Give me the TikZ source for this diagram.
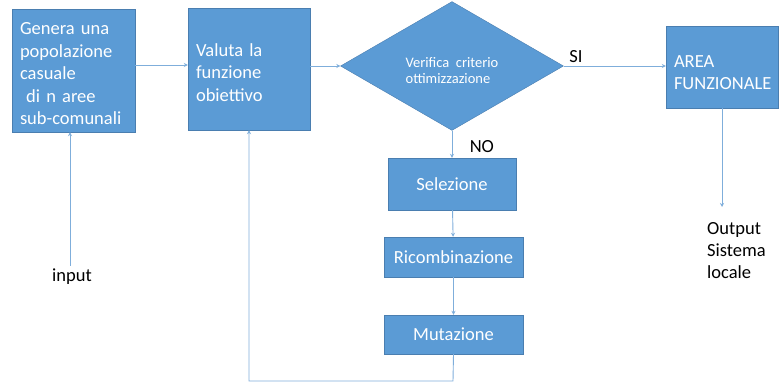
\documentclass[tikz,border=0pt]{standalone}
\usepackage{fontspec}
\setmainfont{Carlito}
\usepackage{tikz}
\usetikzlibrary{arrows.meta, positioning, shapes.geometric}
\definecolor{boxfill}{HTML}{5B9BD5}
\definecolor{boxedge}{HTML}{4A7EB0}
\definecolor{linecol}{HTML}{7FAEDB}
\newcommand{\giu}[1]{\rule{0pt}{#1}}

\begin{document}
\begin{tikzpicture}[x=1pt, y=-1pt]

% Define styles for the nodes
\tikzstyle{blk} = [rectangle, draw=boxedge, fill=boxfill, text=white, font=\fontsize{18.5}{22.5}\selectfont, inner xsep=8pt]
\tikzstyle{dec} = [diamond, draw=boxedge, fill=boxfill, text=white, font=\fontsize{14.5}{16}\selectfont, align=left, inner sep=0pt]
\tikzstyle{conn} = [draw=linecol, line width=0.9pt, -{Stealth[length=4pt, width=4pt]}]
\tikzstyle{lbl} = [text=black, font=\fontsize{18.5}{22}\selectfont, align=left]

\useasboundingbox (0,0) rectangle (782,382);

% Nodes
\node (genera) [blk, minimum width=123, minimum height=123, text width=107, align=left] at (73.5,70.5) {\giu{19pt}Genera una\\popolazione\\casuale\\~di n aree\\sub-comunali};
\node (valuta) [blk, minimum width=122, minimum height=122, text width=106, align=left] at (249,69) {\giu{20pt}Valuta la\\funzione\\obiettivo};
\node (verifica) [dec, minimum width=223, minimum height=128] at (452,66) {\giu{20pt}Verifica~ criterio\\ottimizzazione};
\node (area) [blk, minimum width=110, minimum height=82, text width=96, align=left] at (722,67) {\giu{23pt}AREA\\FUNZIONALE};
\node (selezione) [blk, minimum width=128, minimum height=52] at (452,184) {Selezione};
\node (ricomb) [blk, minimum width=139, minimum height=40, inner xsep=2pt] at (453.5,257) {Ricombinazione};
\node (mutazione) [blk, minimum width=139, minimum height=39] at (453.5,334.5) {Mutazione};
\node (input) [lbl] at (72,277) {input};
\node (output) [lbl, anchor=north west, inner sep=1pt] at (706,221) {Output\\Sistema\\locale};
\coordinate (fondo) at (453,381);

% Arrows
\draw[conn] (genera.east |- 0,65) -- (valuta.west |- 0,65);
\draw[conn] (valuta.east |- verifica.west) -- (verifica.west);
\draw[conn] (verifica.east) -- node[pos=0.12, above, lbl] {SI} (area.west |- verifica.east);
\draw[conn] (verifica.south) -- node[pos=0.6, right=14pt, lbl] {NO} (selezione.north);
\draw[conn] (selezione) -- (ricomb);
\draw[conn] (ricomb) -- (mutazione);
\draw[conn] (area.south) -- (area.south |- 0,207);
\draw[conn] (input.north -| 70,0) -- (genera.south -| 70,0);
\draw[conn] (mutazione.south) -- (fondo) -| (valuta.south);

\end{tikzpicture}
\end{document}
